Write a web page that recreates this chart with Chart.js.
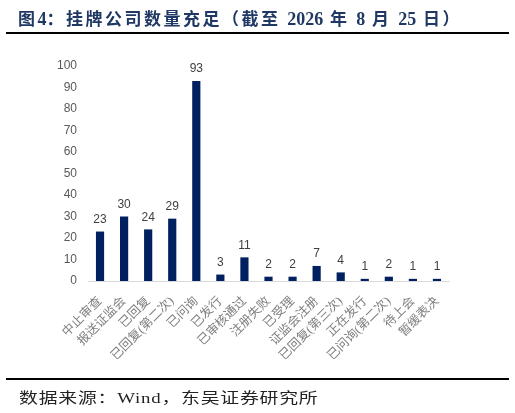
<!DOCTYPE html>
<html>
<head>
<meta charset="utf-8">
<script src="https://cdn.jsdelivr.net/npm/chart.js@4"></script>
<style>
  html, body { margin: 0; padding: 0; background: #fff; }
  #wrap { position: relative; width: 515px; height: 413px; overflow: hidden; }
  #title {
    position: absolute; left: 18px; top: 5px;
    font: bold 17px "Liberation Serif", "Noto Sans CJK SC", serif;
    letter-spacing: 2.5px; color: #1f3864; white-space: nowrap;
  }
  #title .n { letter-spacing: 0; font-size: 18px; }
  #topline { position: absolute; left: 6px; width: 503px; top: 32px; height: 2px; background: #000; }
  #botline { position: absolute; left: 6px; width: 503px; top: 378px; height: 1.5px; background: #000; }
  #source {
    position: absolute; left: 19px; top: 386px;
    font: 14.5px "Liberation Serif", "Noto Sans CJK SC", serif;
    letter-spacing: 0.6px; color: #222; white-space: nowrap;
    transform: scaleX(1.3); transform-origin: left top;
  }
  canvas { position: absolute; left: 0; top: 0; }
</style>
</head>
<body>
<div id="wrap">
  <canvas id="myChart" width="515" height="413"></canvas>
  <div id="title">图<span class="n">4</span>：挂牌公司数量充足（截至 <span class="n">2026</span> 年 <span class="n">8</span> 月 <span class="n">25</span> 日）</div>
  <div id="topline"></div>
  <div id="botline"></div>
  <div id="source">数据来源：Wind，东吴证券研究所</div>
</div>
<script>
// categories and counts
let categories = ['中止审查', '报送证监会', '已回复', '已回复(第二次)', '已问询', '已发行', '已审核通过',
  '注册失败', '已受理', '证监会注册', '已回复(第三次)', '正在发行', '已问询(第二次)', '待上会', '暂缓表决'];
let counts = [23, 30, 24, 29, 93, 3, 11, 2, 2, 7, 4, 1, 2, 1, 1];
let yTicks = [0, 10, 20, 30, 40, 50, 60, 70, 80, 90, 100];

// draw the value above each bar (no datalabels plugin available)
let valueLabels = {
    id: 'valueLabels',
    afterDatasetsDraw(chart) {
        let ctx = chart.ctx;
        let meta = chart.getDatasetMeta(0);
        ctx.save();
        ctx.font = '12px "Liberation Sans", Arial, sans-serif';
        ctx.fillStyle = '#404040';
        ctx.textAlign = 'center';
        ctx.textBaseline = 'bottom';
        meta.data.forEach((bar, i) => {
            ctx.fillText(String(counts[i]), bar.x, bar.y - 6);
        });
        ctx.restore();
    }
};

new Chart(document.getElementById('myChart'), {
    type: 'bar',
    data: {
        labels: categories,
        datasets: [{
            data: counts,
            backgroundColor: '#002060',
            barPercentage: 0.34,
            categoryPercentage: 1
        }]
    },
    options: {
        responsive: false,
        animation: false,
        layout: { padding: { left: 48, top: 66, right: 66, bottom: 32 } },
        plugins: { legend: { display: false }, tooltip: { enabled: false } },
        scales: {
            x: {
                grid: { display: false, drawTicks: false },
                border: { color: '#d9d9d9', width: 1 },
                ticks: {
                    minRotation: 45, maxRotation: 45, autoSkip: false, padding: 13,
                    color: '#7f7f7f',
                    font: { size: 12.5, family: '"Liberation Serif", "Noto Sans CJK SC", serif' }
                },
                afterFit(scale) { scale.height = 100; }
            },
            y: {
                min: 0, max: 100,
                grid: { display: false, drawTicks: false },
                border: { display: false },
                afterBuildTicks(scale) { scale.ticks = yTicks.map(v => ({ value: v })); },
                ticks: {
                    padding: 11, color: '#595959',
                    font: { size: 12, family: '"Liberation Sans", Arial, sans-serif' }
                },
                afterFit(scale) { scale.width = 40; }
            }
        }
    },
    plugins: [valueLabels]
});
</script>
</body>
</html>
